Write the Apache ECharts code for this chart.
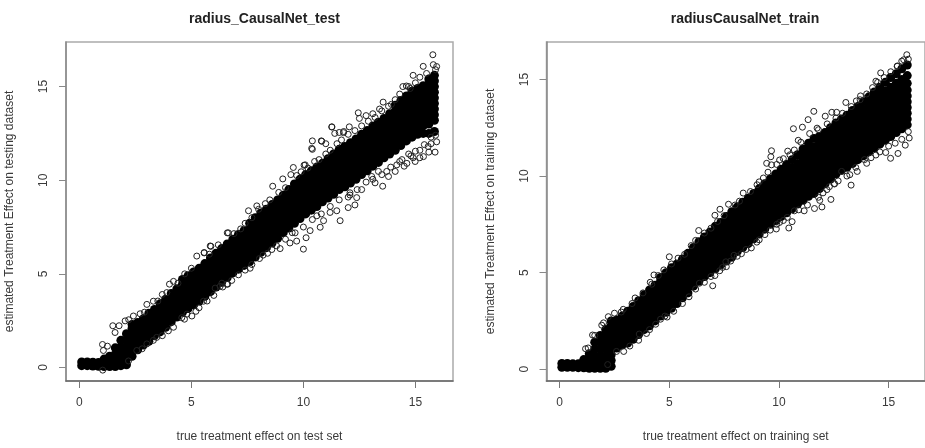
<!DOCTYPE html>
<html><head><meta charset="utf-8">
<style>html,body{margin:0;padding:0;background:#fff;overflow:hidden}#c{width:925px;height:448px}</style>
<script src="https://cdn.jsdelivr.net/npm/echarts@6/dist/echarts.min.js"></script>
</head><body><div id="c"></div>
<script>
const tickValues=[0,5,10,15];
const columnX=[0.1,0.35,0.6,0.85,1.1,1.35,1.6,1.85,2.1,2.35,2.6,2.85,3.1,3.35,3.6,3.85,4.1,4.35,4.6,4.85,5.1,5.35,5.6,5.85,6.1,6.35,6.6,6.85,7.1,7.35,7.6,7.85,8.1,8.35,8.6,8.85,9.1,9.35,9.6,9.85,10.1,10.35,10.6,10.85,11.1,11.35,11.6,11.85,12.1,12.35,12.6,12.85,13.1,13.35,13.6,13.85,14.1,14.35,14.6,14.85,15.1,15.35,15.6,15.85];
const testColumns=[
[.1,.3],[.1,.3],[.08,.28],[.07,.27],[.05,.25,.45],[.05,.3,.6],[.05,.35,.7,1.05],[.1,.4,.75,1.1,1.45],[.15,.45,.8,1.1,1.45,1.8],[.6,.9,1.2,1.5,1.8,2.1,2.3],
[.95,1.25,1.55,1.85,2.15,2.4],[1.2,1.5,1.8,2.1,2.4,2.6],[1.4,1.7,2,2.3,2.6,2.9],[1.7,2,2.3,2.6,2.9,3.1],[1.9,2.2,2.5,2.8,3.1,3.4],[2.15,2.45,2.75,3.05,3.35,3.65],[2.45,2.75,3.05,3.35,3.65,3.95],[2.7,3,3.3,3.6,3.9,4.2],[2.95,3.25,3.55,3.85,4.15,4.45,4.7],[3.15,3.45,3.75,4.05,4.35,4.65,4.9],
[3.35,3.65,3.95,4.25,4.55,4.85,5.1],[3.55,3.85,4.15,4.45,4.75,5.05,5.3],[3.8,4.1,4.4,4.7,5,5.3,5.55],[4.05,4.35,4.65,4.95,5.25,5.55,5.85],[4.3,4.6,4.9,5.2,5.5,5.8,6.1],[4.55,4.85,5.15,5.45,5.75,6.05,6.35],[4.8,5.1,5.4,5.7,6,6.3,6.6],[5.05,5.35,5.65,5.95,6.25,6.55,6.85],[5.25,5.55,5.85,6.15,6.45,6.75,7.1],[5.45,5.75,6.05,6.35,6.65,6.95,7.3],
[5.65,5.95,6.25,6.55,6.85,7.15,7.45,7.7],[5.9,6.2,6.5,6.8,7.1,7.4,7.7,8],[6.15,6.45,6.75,7.05,7.35,7.65,7.95,8.25],[6.4,6.7,7,7.3,7.6,7.9,8.2,8.45],[6.65,6.95,7.25,7.55,7.85,8.15,8.45,8.7],[6.9,7.2,7.5,7.8,8.1,8.4,8.7,8.95],[7.2,7.5,7.8,8.1,8.4,8.7,9,9.2],[7.45,7.75,8.05,8.35,8.65,8.95,9.25,9.5],[7.7,8,8.3,8.6,8.9,9.2,9.5,9.8],[7.95,8.25,8.55,8.85,9.15,9.45,9.75,10.05],
[8.2,8.5,8.8,9.1,9.4,9.7,10,10.3],[8.4,8.7,9,9.3,9.6,9.9,10.2,10.5],[8.6,8.9,9.2,9.5,9.8,10.1,10.4,10.7],[8.85,9.15,9.45,9.75,10.05,10.35,10.65,10.9],[9.05,9.35,9.65,9.95,10.25,10.55,10.85,11.15],[9.25,9.55,9.85,10.15,10.45,10.75,11.05,11.4],[9.5,9.8,10.1,10.4,10.7,11,11.3,11.65],[9.65,9.95,10.25,10.55,10.85,11.15,11.45,11.8],[9.85,10.15,10.45,10.75,11.05,11.35,11.65,12],[10.05,10.35,10.65,10.95,11.25,11.55,11.85,12.2],
[10.3,10.6,10.9,11.2,11.5,11.8,12.1,12.45],[10.5,10.8,11.1,11.4,11.7,12,12.3,12.65],[10.75,11.05,11.35,11.65,11.95,12.25,12.55,12.9],[10.95,11.25,11.55,11.85,12.15,12.45,12.75,13.1],[11.2,11.5,11.8,12.1,12.4,12.7,13,13.3],[11.4,11.7,12,12.3,12.6,12.9,13.2,13.55],[11.6,11.9,12.2,12.5,12.8,13.1,13.4,13.7,14],[11.85,12.15,12.45,12.75,13.05,13.35,13.65,13.95,14.25],[12.1,12.4,12.7,13,13.3,13.6,13.9,14.2,14.5],[12.3,12.6,12.9,13.2,13.5,13.8,14.1,14.4,14.75],
[12.45,12.75,13.05,13.35,13.65,13.95,14.25,14.55,14.9],[12.5,12.9,13.2,13.5,13.8,14.1,14.4,14.7,15.05],[12.5,13,13.3,13.6,13.9,14.2,14.5,14.8,15.15,15.4],[12.6,13.2,13.5,13.8,14.1,14.4,14.7,15,15.3,15.6]];
const trainColumns=[
[.1,.3],[.1,.3],[.1,.28],[.08,.28],[.07,.27,.5],[.05,.3,.6,.8],[.05,.35,.7,1.05,1.4],[.05,.35,.7,1.05,1.4,1.75],[.05,.35,.7,1.05,1.4,1.75,2.05],[.15,.45,.75,1.05,1.35,1.65,1.95,2.25,2.5],
[1.1,1.4,1.7,2,2.3,2.55],[1.25,1.55,1.85,2.15,2.45,2.75],[1.35,1.65,1.95,2.25,2.55,2.85,3],[1.55,1.85,2.15,2.45,2.75,3.05,3.25],[1.8,2.1,2.4,2.7,3,3.3,3.55],[2.05,2.35,2.65,2.95,3.25,3.55,3.85],[2.25,2.55,2.85,3.15,3.45,3.75,4.1],[2.5,2.8,3.1,3.4,3.7,4,4.35],[2.75,3.05,3.35,3.65,3.95,4.25,4.55,4.75],[2.95,3.25,3.55,3.85,4.15,4.45,4.75,5],
[3.15,3.45,3.75,4.05,4.35,4.65,4.95,5.25],[3.4,3.7,4,4.3,4.6,4.9,5.2,5.45],[3.7,4,4.3,4.6,4.9,5.2,5.5,5.7],[3.95,4.25,4.55,4.85,5.15,5.45,5.75,6],[4.3,4.6,4.9,5.2,5.5,5.8,6.1,6.3],[4.55,4.85,5.15,5.45,5.75,6.05,6.35,6.6],[4.8,5.1,5.4,5.7,6,6.3,6.6,6.85],[5,5.3,5.6,5.9,6.2,6.5,6.8,7.1],[5.2,5.5,5.8,6.1,6.4,6.7,7,7.4],[5.4,5.7,6,6.3,6.6,6.9,7.2,7.6],
[5.6,5.9,6.2,6.5,6.8,7.1,7.4,7.7,7.9],[5.8,6.1,6.4,6.7,7,7.3,7.6,7.9,8.15],[6.1,6.4,6.7,7,7.3,7.6,7.9,8.15,8.4],[6.3,6.6,6.9,7.2,7.5,7.8,8.1,8.4,8.65],[6.5,6.8,7.1,7.4,7.7,8,8.3,8.6,8.85],[6.75,7.05,7.35,7.65,7.95,8.25,8.55,8.85,9.1],[7,7.3,7.6,7.9,8.2,8.5,8.8,9.1,9.35],[7.25,7.55,7.85,8.15,8.45,8.75,9.05,9.35,9.6],[7.5,7.8,8.1,8.4,8.7,9,9.3,9.6,9.85],[7.7,8,8.3,8.6,8.9,9.2,9.5,9.8,10.1],
[7.9,8.2,8.5,8.8,9.1,9.4,9.7,10,10.35],[8.1,8.4,8.7,9,9.3,9.6,9.9,10.2,10.6],[8.3,8.6,8.9,9.2,9.5,9.8,10.1,10.4,10.85],[8.55,8.85,9.15,9.45,9.75,10.05,10.35,10.65,11.1],[8.75,9.05,9.35,9.65,9.95,10.25,10.55,10.85,11.15,11.4],[8.95,9.25,9.55,9.85,10.15,10.45,10.75,11.05,11.35,11.7],[9.1,9.4,9.7,10,10.3,10.6,10.9,11.2,11.5,11.95],[9.35,9.65,9.95,10.25,10.55,10.85,11.15,11.45,11.75,12.05],[9.6,9.9,10.2,10.5,10.8,11.1,11.4,11.7,12,12.25],[9.85,10.15,10.45,10.75,11.05,11.35,11.65,11.95,12.25,12.5],
[10.1,10.4,10.7,11,11.3,11.6,11.9,12.2,12.5,12.75],[10.3,10.6,10.9,11.2,11.5,11.8,12.1,12.4,12.7,12.95],[10.45,10.75,11.05,11.35,11.65,11.95,12.25,12.55,12.85,13.15],[10.65,10.95,11.25,11.55,11.85,12.15,12.45,12.75,13.05,13.4],[10.85,11.15,11.45,11.75,12.05,12.35,12.65,12.95,13.25,13.6],[11.05,11.35,11.65,11.95,12.25,12.55,12.85,13.15,13.45,13.85],[11.25,11.55,11.85,12.15,12.45,12.75,13.05,13.35,13.7,14.1],[11.45,11.75,12.05,12.35,12.65,12.95,13.25,13.55,13.95,14.35],[11.65,11.95,12.25,12.55,12.85,13.15,13.45,13.8,14.2,14.6],[11.85,12.15,12.45,12.75,13.05,13.35,13.65,14,14.4,14.85],
[12.05,12.35,12.65,12.95,13.25,13.55,13.85,14.2,14.6,15.1],[12.25,12.55,12.85,13.15,13.45,13.75,14.05,14.4,14.8,15.3],[12.45,12.75,13.05,13.35,13.65,13.95,14.25,14.6,15,15.55],[12.65,12.95,13.25,13.55,13.85,14.15,14.45,14.8,15.2,15.75]];
const testOutliers=[[15.78,16.7],[15.35,16.08],[15.8,16.17],[15.95,16.07],[14.9,15.6],[14.44,15],[14.6,15.03],[14.77,14.9],[13.56,14.17],[13.93,14.05],[13.4,13.8],[12.45,13.6],[12.5,13.3],[12.8,13.45],[13.1,13.55],[11.27,12.85],[11.4,12.5],[11.6,12.55],[11.8,12.6],[12.05,12.85],[10.4,12.1],[10.8,12.1],[11,11.95],[10.4,11.65],[10.03,10.8],
[14.62,10.9],[14.99,11],[15.36,11.26],[15.88,11.5],[15.95,12.05],[15.57,11.8],[14.1,10.47],[14.17,10.82],[13.54,9.68],[13.8,10.2],[13.2,9.86],[12.6,9.5],[12.08,9.33],[13.05,10.2],[13.35,10.47],[13.72,10.47],[14.8,11.3],[15.2,11.6],[14.4,11.1],[15.7,12.3],
[11.64,7.84],[10,6.32],[9.4,6.65],[9.7,6.75],[10.12,6.93],[9.63,7.19],[10.75,7.49],[10.3,7.31],[12,8.54],[12.3,8.68],[12.38,9.07],[12.08,9.21],[11.19,8.28],[10.9,7.84],[10.6,8.1],[11.49,8.37],[8.96,6.35],[8.59,6.3],[8.04,5.82],[7.62,5.3],[7.4,5.2],[6.58,4.45],[6.36,4.5],
[9.55,10.68],[9.08,10.07],[9.44,10.3],[8.63,9.68],[7.92,8.63],[7.55,8.37],[6.6,7.19],[5.84,6.49],[5.57,6.14],[11.27,12.84],[10.08,10.82],[10.37,11.7],[10.82,12.08],[11.79,12.54],
[1.49,2.23],[1.77,2.23],[2.04,2.49],[1.59,1.87],[1.03,1.23],[1.25,1.14],[1.07,.91],[2.41,2.75],[2.71,2.87],[3.01,3.37],[3.3,3.54],[3.7,3.9],[4.02,4.45],[4.2,4.6],[5.24,5.95],[5.57,6.12],[5.87,6.47],[6.65,7.19],
[2.19,.35],[2.56,.91],[3.01,1.26],[3.45,1.61],[3.97,1.96],[4.57,2.66],[4.69,2.58],[5.02,2.75],[5.34,3.19],[5.54,3.54],[6.06,4.24],[6.62,4.45],[6.28,4.33],[1.04,-.14],
[2.2,2.55],[2.9,2.95],[3.5,3.55],[3.9,4],[4.4,4.5],[4.7,5],[5,5.3],[5.8,6.05],[6.2,6.55],[6.9,7.15],[7.2,7.4],[7.4,7.7],[7.7,8],[8,8.45],[8.3,8.75],[8.5,8.95],[8.9,9.35],[9.2,9.6],[9.7,10.25],[9.9,10.45],[10.2,10.65],[10.5,11],[10.7,11.1],[11,11.4],[11.2,11.6],[11.5,11.95],[11.7,12.15],[12,12.45],[12.3,12.65],[12.6,12.9],[12.9,13.15],[13.2,13.35],[13.5,13.7],[13.8,13.95],[14.1,14.3],[14.3,14.6],[14.7,15],[15,15.2],[15.2,15.5],[15.5,15.7],[15.9,15.9],
[2.8,1],[3.3,1.45],[3.7,1.7],[4.2,2.15],[4.8,2.85],[5.2,3],[5.7,3.55],[6,3.85],[6.4,4.3],[6.8,4.65],[7.1,4.95],[7.7,5.5],[8.2,6],[8.4,6.1],[8.8,6.5],[9.2,6.85],[9.5,7.2],[10,7.5],[10.4,7.9],[10.8,8.2],[11.2,8.6],[11.6,8.95],[12,9.1],[12.4,9.5],[12.8,9.9],[13.1,10.05],[13.5,10.3],[13.9,10.7],[14.3,11],[14.7,11.4],[15,11.55],[15.4,11.9],[15.7,11.95],[15.9,12.4],[14.5,10.75],[14.9,11.2],[15.2,11.2],[15.6,11.5]];
const trainOutliers=[[15.83,16.28],[15.69,16.02],[15.39,15.68],[14.64,15.34],[14.42,14.91],[14.27,14.58],[13.72,14.15],[13.05,13.81],[13.53,13.89],[11.59,13.35],[11.33,12.92],[11.07,12.53],[10.66,12.45],[12.41,13.3],[12.63,13.3],[11.74,12.48],[12.11,13.1],[10.88,11.85],[10.4,11.29],[10.03,10.83],
[15.94,11.97],[15.76,11.6],[15.09,10.92],[15.43,11.17],[14.87,11.22],[14,10.66],[13.57,10.24],[13.29,9.53],[13.23,10.07],[12.53,9.61],[12.19,9.3],[12.01,9.13],[12.86,10.24],[14.42,11.09],
[9.66,11.31],[9.63,11],[9.44,10.66],[9.66,10.58],[9.29,9.9],[8.37,9.12],[7.31,8.28],[7.08,7.97],[7.7,8.54],[6.34,7.18],[6.2,6.67],[5,5.82],
[12.53,9.59],[11.86,8.74],[12.37,8.79],[11.62,8.32],[11.96,8.4],[11.15,8.2],[10.7,8.2],[10.45,7.31],[10.6,7.64],[10.38,7.86],[10.03,7.6],[9.88,7.26],[9.36,6.97],[8.99,6.58],[8.74,6.28],[8.29,5.98],[7.95,5.9],[7.6,5.31],[7.43,5.27],[7.58,5.56],[7.08,4.85],[6.98,4.32],[6.37,4.45],
[2.81,2.96],[1.92,2.28],[1.5,1.77],[2.22,2.72],[3.44,3.69],[1.18,1.06],[4.13,4.5],[4.3,4.88],[4.75,5.14],
[2.19,.24],[2.59,.92],[2.92,.92],[3.63,1.82],[3.96,1.85],[4.38,2.33],[4.6,2.59],[4.9,2.7],
[1.3,1.1],[1.6,1.75],[2,2.4],[2.5,2.9],[2.9,3.1],[3.3,3.4],[3.8,3.95],[4.2,4.4],[4.5,4.85],[5.1,5.45],[5.4,5.75],[5.7,5.95],[6,6.4],[6.6,7.05],[6.9,7.3],[7.2,7.65],[7.5,7.95],[8,8.5],[8.2,8.7],[8.7,9.2],[9,9.55],[9.1,9.7],[9.5,10.2],[9.9,10.6],[10.2,10.9],[10.5,11.1],[10.7,11.35],[11,11.75],[11.4,12.2],[11.8,12.4],[12.2,12.7],[12.6,13],[12.9,13.25],[13.3,13.6],[13.7,13.95],[14,14.25],[14.5,14.85],[14.8,15.1],[15.1,15.4],[15.4,15.7],[15.6,15.95],[15.9,16.05],
[3.2,1.2],[3.6,1.5],[4.1,2.05],[4.8,2.75],[5.2,3],[5.6,3.4],[5.9,3.75],[6.2,4.15],[6.6,4.5],[6.9,4.8],[7.3,5.1],[7.8,5.6],[8.1,5.85],[8.5,6.2],[9.1,6.7],[9.6,7.2],[9.9,7.5],[10.2,7.7],[10.9,8.25],[11.3,8.5],[11.8,8.9],[12.3,9.45],[12.7,9.75],[13.1,10],[13.5,10.45],[13.9,10.85],[14.2,10.95],[14.6,11.25],[15,11.55],[15.3,11.7],[15.6,11.9],[15.9,12.3]];

function flatten(cols){const out=[];cols.forEach((ys,i)=>ys.forEach(y=>out.push([columnX[i],y])));return out;}
const ink='#3a3a3a';
const fam='Liberation Sans';
function xAxis(i,name,min,max){return {type:'value',gridIndex:i,min,max,name,nameLocation:'middle',nameGap:50,nameTextStyle:{fontSize:12,color:ink,fontFamily:fam},
 splitLine:{show:false},axisLine:{show:true,onZero:false,lineStyle:{color:'#666',width:1.5}},axisTick:{show:true,length:7,customValues:tickValues,lineStyle:{color:'#777'}},
 axisLabel:{customValues:tickValues,margin:16,fontSize:12,color:ink,fontFamily:fam}};}
function yAxis(i,name,min,max){return {type:'value',gridIndex:i,min,max,name,nameLocation:'middle',nameGap:50,nameTextStyle:{fontSize:12,color:ink,fontFamily:fam},
 splitLine:{show:false},axisLine:{show:true,onZero:false,lineStyle:{color:'#888',width:1.5}},axisTick:{show:true,length:7,customValues:tickValues,lineStyle:{color:'#888'}},
 axisLabel:{customValues:tickValues,rotate:90,margin:16,fontSize:12,color:ink,fontFamily:fam}};}
function core(i,d){return {type:'scatter',xAxisIndex:i,yAxisIndex:i,data:d,symbol:'circle',symbolSize:9,itemStyle:{color:'#000',opacity:1},silent:true,z:2};}
function ring(i,d){return {type:'scatter',xAxisIndex:i,yAxisIndex:i,data:d,symbol:'circle',symbolSize:6,itemStyle:{color:'rgba(0,0,0,0)',borderColor:'#222',borderWidth:1,opacity:1},silent:true,z:3};}
const chart=echarts.init(document.getElementById('c'),null,{renderer:'canvas'});
chart.setOption({animation:false,backgroundColor:'#fff',
 title:[
  {text:'radius_CausalNet_test',left:259.5,top:7,textAlign:'center',textStyle:{fontSize:14,fontWeight:'bold',color:'#222',fontFamily:fam}},
  {text:'radiusCausalNet_train',left:740,top:7,textAlign:'center',textStyle:{fontSize:14,fontWeight:'bold',color:'#222',fontFamily:fam}}],
 grid:[
  {left:66,top:42,width:387,height:344,show:true,borderColor:'#aaa',borderWidth:1.5,containLabel:false},
  {left:546.5,top:42,width:387,height:344,show:true,borderColor:'#aaa',borderWidth:1.5,containLabel:false}],
 xAxis:[xAxis(0,'true treatment effect on test set',-0.6,16.68),xAxis(1,'true treatment effect on training set',-0.6,16.66)],
 yAxis:[yAxis(0,'estimated Treatment Effect on testing dataset',-0.72,17.38),yAxis(1,'estimated Treatment Effect on training dataset',-0.61,16.94)],
 series:[core(0,flatten(testColumns)),ring(0,testOutliers),core(1,flatten(trainColumns)),ring(1,trainOutliers)]
});
</script></body></html>
